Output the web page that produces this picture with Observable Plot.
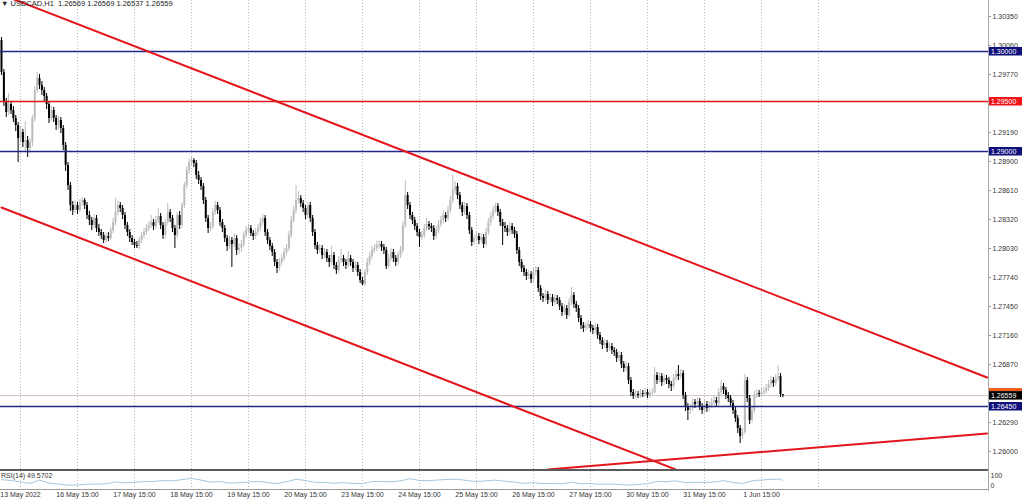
<!DOCTYPE html>
<html><head><meta charset="utf-8">
<script src="https://cdn.jsdelivr.net/npm/d3@7"></script>
<script src="https://cdn.jsdelivr.net/npm/@observablehq/plot@0.6"></script>
<style>
html,body{margin:0;padding:0;background:#fff;}
body{width:1024px;height:499px;overflow:hidden;position:relative;font-family:"Liberation Sans",Arial,sans-serif;}
#main{position:absolute;left:0;top:0;}
#rsi{position:absolute;left:0;top:469px;}
#hdr{position:absolute;left:1px;top:-1px;font-size:7.5px;line-height:10px;color:#222;white-space:pre;}
#rsilbl{position:absolute;left:1px;top:471px;font-size:7px;line-height:9px;color:#333;white-space:pre;}
#sep{position:absolute;left:0;top:469px;width:988px;height:2px;background:#5a5a5a;}
#vaxis{position:absolute;left:988px;top:0;width:1px;height:491px;background:#a8a8a8;}
svg{overflow:visible}
</style></head><body>
<div id="main"></div>
<div id="rsi"></div>
<div id="sep"></div>
<div id="vaxis"></div>
<div id="hdr"></div>
<div id="rsilbl"></div>
<script>
// ---- data: USDCAD H1, one bar per hour (bar index 0 = 13 May 07:00) ----
const symbol = "USDCAD,H1";
const firstOpen = 1.3011;
const closes = [
1.2979,1.2949,1.2939,1.2947,1.2941,1.2933,1.2926,1.2913,1.2919,1.2909,
1.2911,1.2903,1.2909,1.2933,1.2961,1.2973,1.2966,1.2961,1.2955,1.2947,
1.2933,1.2941,1.2933,1.2926,1.2931,1.2923,1.2906,1.2886,1.2866,1.2846,
1.2841,1.2846,1.2841,1.2849,1.2851,1.2846,1.2836,1.2831,1.2826,1.2833,
1.2823,1.2819,1.2816,1.2811,1.2815,1.2813,1.2821,1.2829,1.2839,1.2846,
1.2843,1.2836,1.2826,1.2819,1.2813,1.2809,1.2806,1.2805,1.2811,1.2816,
1.2819,1.2823,1.2826,1.2829,1.2825,1.2831,1.2835,1.2826,1.2816,1.2829,
1.2839,1.2833,1.2823,1.2816,1.2836,1.2826,1.2846,1.2866,1.2881,1.2889,
1.2891,1.2888,1.2876,1.2871,1.2865,1.2851,1.2833,1.2823,1.2825,1.2839,
1.2846,1.2841,1.2829,1.2823,1.2813,1.2805,1.2811,1.2807,1.2813,1.2801,
1.2803,1.2807,1.2816,1.2821,1.2823,1.2818,1.2815,1.2819,1.2823,1.2829,
1.2833,1.2819,1.2811,1.2805,1.2799,1.2789,1.2783,1.2789,1.2793,1.2799,
1.2803,1.2816,1.2831,1.2841,1.2851,1.2853,1.2848,1.2843,1.2836,1.2846,
1.2833,1.2819,1.2806,1.2801,1.2803,1.2796,1.2799,1.2793,1.2789,1.2796,
1.2786,1.2781,1.2791,1.2793,1.2789,1.2786,1.2793,1.2789,1.2783,1.2786,
1.2779,1.2771,1.2767,1.2779,1.2789,1.2795,1.2801,1.2803,1.2806,1.2807,
1.2804,1.2801,1.2785,1.2793,1.2799,1.2793,1.2789,1.2796,1.2801,1.2826,
1.2856,1.2846,1.2836,1.2831,1.2825,1.2819,1.2814,1.2816,1.2823,1.2827,
1.2825,1.2823,1.2815,1.2821,1.2827,1.2831,1.2836,1.2833,1.2841,1.2851,
1.2861,1.2865,1.2856,1.2846,1.2839,1.2845,1.2836,1.2821,1.2809,1.2813,
1.2815,1.2811,1.2814,1.2807,1.2819,1.2829,1.2835,1.2841,1.2845,1.2839,
1.2829,1.2825,1.2823,1.2819,1.2825,1.2821,1.2817,1.2801,1.2789,1.2783,
1.2779,1.2775,1.2777,1.2772,1.2779,1.2781,1.2763,1.2755,1.2753,1.2757,
1.2751,1.2754,1.2749,1.2753,1.2751,1.2745,1.2739,1.2743,1.2736,1.2749,
1.2756,1.2747,1.2743,1.2733,1.2726,1.2723,1.2725,1.2727,1.2723,1.2721,
1.2724,1.2716,1.2711,1.2706,1.2708,1.2703,1.2705,1.2701,1.2699,1.2693,
1.2696,1.2687,1.2683,1.2685,1.2671,1.2659,1.2655,1.2657,1.2656,1.2658,
1.2657,1.2659,1.2656,1.2658,1.2659,1.2676,1.2671,1.2675,1.2669,1.2673,
1.2671,1.2667,1.2665,1.2673,1.2677,1.2675,1.2678,1.2656,1.2645,1.2641,
1.2643,1.2649,1.2647,1.2650,1.2645,1.2641,1.2647,1.2643,1.2646,1.2649,
1.2651,1.2648,1.2659,1.2665,1.2661,1.2656,1.2653,1.2648,1.2641,1.2633,
1.2623,1.2615,1.2619,1.2671,1.2653,1.2631,1.2641,1.2656,1.2658,1.2657,
1.2659,1.2660,1.2663,1.2667,1.2671,1.2668,1.2673,1.2675,1.26569,1.26559];
const highs = [
1.3014,1.2982,1.2953,1.2958,1.2950,1.2945,1.2936,1.2929,1.2924,1.2922,
1.2930,1.2915,1.2913,1.2936,1.2965,1.2979,1.2977,1.2970,1.2964,1.2958,
1.2950,1.2945,1.2944,1.2936,1.2935,1.2934,1.2926,1.2909,1.2889,1.2869,
1.2850,1.2851,1.2849,1.2852,1.2854,1.2853,1.2849,1.2840,1.2834,1.2837,
1.2836,1.2827,1.2822,1.2819,1.2818,1.2819,1.2824,1.2833,1.2853,1.2850,
1.2849,1.2846,1.2839,1.2829,1.2822,1.2816,1.2812,1.2810,1.2814,1.2819,
1.2823,1.2827,1.2830,1.2836,1.2832,1.2835,1.2843,1.2838,1.2829,1.2832,
1.2848,1.2842,1.2836,1.2826,1.2839,1.2840,1.2849,1.2869,1.2885,1.2893,
1.2894,1.2893,1.2891,1.2880,1.2874,1.2868,1.2854,1.2836,1.2829,1.2843,
1.2850,1.2849,1.2844,1.2832,1.2826,1.2816,1.2815,1.2814,1.2818,1.2816,
1.2808,1.2811,1.2820,1.2825,1.2827,1.2826,1.2821,1.2823,1.2827,1.2833,
1.2837,1.2836,1.2822,1.2814,1.2808,1.2802,1.2792,1.2793,1.2797,1.2803,
1.2807,1.2820,1.2835,1.2845,1.2866,1.2860,1.2856,1.2851,1.2846,1.2849,
1.2849,1.2836,1.2822,1.2809,1.2807,1.2806,1.2803,1.2802,1.2796,1.2805,
1.2799,1.2789,1.2795,1.2802,1.2796,1.2792,1.2800,1.2796,1.2792,1.2790,
1.2789,1.2782,1.2774,1.2782,1.2793,1.2799,1.2805,1.2807,1.2810,1.2811,
1.2810,1.2807,1.2804,1.2797,1.2803,1.2802,1.2796,1.2799,1.2805,1.2830,
1.2871,1.2859,1.2849,1.2839,1.2834,1.2828,1.2822,1.2820,1.2827,1.2833,
1.2830,1.2828,1.2826,1.2825,1.2831,1.2835,1.2841,1.2839,1.2845,1.2855,
1.2876,1.2870,1.2868,1.2859,1.2849,1.2849,1.2848,1.2839,1.2824,1.2817,
1.2819,1.2818,1.2818,1.2817,1.2823,1.2833,1.2839,1.2845,1.2848,1.2848,
1.2842,1.2832,1.2829,1.2826,1.2829,1.2828,1.2824,1.2820,1.2804,1.2792,
1.2786,1.2782,1.2781,1.2780,1.2783,1.2785,1.2784,1.2766,1.2758,1.2761,
1.2760,1.2758,1.2757,1.2757,1.2756,1.2754,1.2748,1.2747,1.2746,1.2753,
1.2764,1.2759,1.2750,1.2746,1.2736,1.2729,1.2729,1.2731,1.2730,1.2726,
1.2728,1.2727,1.2719,1.2714,1.2712,1.2711,1.2709,1.2708,1.2704,1.2702,
1.2700,1.2699,1.2690,1.2689,1.2688,1.2674,1.2662,1.2661,1.2660,1.2662,
1.2661,1.2663,1.2662,1.2661,1.2663,1.2684,1.2679,1.2679,1.2678,1.2677,
1.2676,1.2674,1.2670,1.2677,1.2681,1.2686,1.2682,1.2681,1.2659,1.2648,
1.2647,1.2653,1.2652,1.2654,1.2653,1.2648,1.2651,1.2650,1.2650,1.2653,
1.2655,1.2654,1.2663,1.2671,1.2668,1.2664,1.2659,1.2656,1.2651,1.2644,
1.2636,1.2626,1.2623,1.2677,1.2674,1.2656,1.2645,1.2660,1.2662,1.2661,
1.2663,1.2664,1.2667,1.2671,1.2675,1.2674,1.2677,1.2686,1.2678,1.26569];
const lows = [
1.2976,1.2945,1.2934,1.2936,1.2937,1.2929,1.2920,1.2889,1.2908,1.2904,
1.2900,1.2894,1.2898,1.2905,1.2930,1.2958,1.2962,1.2956,1.2950,1.2942,
1.2928,1.2930,1.2929,1.2921,1.2922,1.2918,1.2901,1.2880,1.2861,1.2840,
1.2836,1.2838,1.2837,1.2839,1.2845,1.2842,1.2832,1.2826,1.2821,1.2823,
1.2819,1.2815,1.2812,1.2808,1.2809,1.2810,1.2811,1.2818,1.2826,1.2836,
1.2839,1.2832,1.2822,1.2815,1.2809,1.2806,1.2803,1.2803,1.2802,1.2808,
1.2813,1.2816,1.2820,1.2823,1.2821,1.2822,1.2828,1.2822,1.2812,1.2813,
1.2826,1.2829,1.2819,1.2803,1.2813,1.2822,1.2823,1.2843,1.2863,1.2877,
1.2885,1.2884,1.2872,1.2867,1.2861,1.2847,1.2829,1.2818,1.2820,1.2822,
1.2836,1.2837,1.2825,1.2819,1.2809,1.2800,1.2802,1.2784,1.2804,1.2796,
1.2797,1.2799,1.2804,1.2813,1.2818,1.2815,1.2811,1.2812,1.2816,1.2820,
1.2826,1.2815,1.2807,1.2801,1.2795,1.2785,1.2778,1.2780,1.2786,1.2790,
1.2796,1.2800,1.2813,1.2828,1.2838,1.2847,1.2844,1.2839,1.2832,1.2833,
1.2829,1.2815,1.2802,1.2797,1.2798,1.2792,1.2793,1.2789,1.2784,1.2786,
1.2782,1.2777,1.2778,1.2788,1.2785,1.2782,1.2783,1.2785,1.2779,1.2780,
1.2775,1.2768,1.2766,1.2765,1.2776,1.2786,1.2792,1.2798,1.2800,1.2802,
1.2800,1.2797,1.2782,1.2783,1.2790,1.2789,1.2785,1.2786,1.2793,1.2798,
1.2823,1.2842,1.2832,1.2827,1.2821,1.2815,1.2804,1.2811,1.2813,1.2820,
1.2821,1.2819,1.2811,1.2812,1.2818,1.2824,1.2828,1.2829,1.2830,1.2838,
1.2848,1.2857,1.2852,1.2842,1.2835,1.2836,1.2832,1.2817,1.2805,1.2806,
1.2810,1.2807,1.2808,1.2803,1.2805,1.2816,1.2826,1.2832,1.2838,1.2835,
1.2825,1.2806,1.2819,1.2815,1.2816,1.2817,1.2813,1.2797,1.2785,1.2779,
1.2775,1.2771,1.2772,1.2768,1.2769,1.2776,1.2759,1.2751,1.2749,1.2750,
1.2747,1.2748,1.2745,1.2746,1.2747,1.2741,1.2735,1.2736,1.2732,1.2734,
1.2746,1.2743,1.2739,1.2729,1.2722,1.2719,1.2720,1.2722,1.2719,1.2717,
1.2718,1.2712,1.2707,1.2702,1.2703,1.2699,1.2700,1.2697,1.2695,1.2689,
1.2690,1.2683,1.2679,1.2680,1.2667,1.2655,1.2652,1.2653,1.2653,1.2653,
1.2654,1.2654,1.2653,1.2653,1.2655,1.2657,1.2667,1.2668,1.2665,1.2666,
1.2667,1.2663,1.2660,1.2662,1.2670,1.2671,1.2672,1.2652,1.2640,1.2631,
1.2637,1.2640,1.2643,1.2644,1.2641,1.2637,1.2638,1.2639,1.2640,1.2643,
1.2646,1.2644,1.2645,1.2656,1.2657,1.2652,1.2649,1.2644,1.2637,1.2629,
1.2618,1.2608,1.2612,1.2617,1.2649,1.2627,1.2628,1.2638,1.2653,1.2654,
1.2654,1.2656,1.2657,1.2660,1.2664,1.2664,1.2665,1.2670,1.2654,1.26537];

// RSI(14) readings, one every 4 bars plus the last bar
const rsiValues = [55,50,42,34,52,36,30,24,25,29,30,32,42,37,40,44,45,49,48,55,
62,52,41,44,35,38,41,45,39,33,43,57,50,40,39,35,38,34,33,44,
45,43,48,60,50,49,53,56,57,50,44,48,52,46,41,34,38,33,34,32,
40,32,33,29,30,28,24,28,32,45,44,48,38,40,39,42,49,39,33,48,
53,56,58,49.5702];
const rsiLast = 49.5702;

// time axis (bar index of each labelled hour)
const dayLabels = ["13 May 2022","16 May 15:00","17 May 15:00","18 May 15:00","19 May 15:00","20 May 15:00",
  "23 May 15:00","24 May 15:00","25 May 15:00","26 May 15:00","27 May 15:00","30 May 15:00","31 May 15:00","1 Jun 15:00"];
const dayBars = [8,32,56,80,104,128,152,176,200,224,248,272,296,320];
const gridBars = [8,32,56,80,104,128,152,176,200,224,248,272,296,320,344];

// price axis
const priceTicks = [1.30350,1.30060,1.29770,1.29190,1.28900,1.28610,1.28320,1.28030,1.27740,1.27450,1.27160,1.26870,1.26290,1.26000];

// horizontal levels
const levelPrices = [1.30000, 1.29500, 1.29000, 1.26450];
const levelKinds = ["support", "pivot", "support", "support"];
const lastPrice = 1.26559;

// trend lines: [bar index, price]
const channelUpper = [[0, 1.3057], [415, 1.2674]];
const channelLower = [[0, 1.2844], [415, 1.2461]];
const risingSupport = [[230, 1.2582], [415, 1.2618]];

// ---- build ----
const bars = closes.map((c, i) => ({i, open: i === 0 ? firstOpen : closes[i - 1], high: highs[i], low: lows[i], close: c}));
const rsiBars = [...d3.range(0, 329, 4), 329];
const rsiData = rsiValues.map((v, k) => ({i: rsiBars[k], v}));

const BLUE = "#24248a", RED = "#e3161c", BULL = "#bcbcbc", BEAR = "#000000";
const kindColor = {support: BLUE, pivot: RED};
const xDomain = [-1 / 2.375, 987 / 2.375];
const font = "'Liberation Sans', Arial, sans-serif";
const candleColor = d => d.close >= d.open ? BULL : BEAR;

const main = Plot.plot({
  width: 1024, height: 469,
  marginTop: 0, marginBottom: 0, marginLeft: 0, marginRight: 36,
  style: {fontFamily: font, fontSize: "7px", background: "transparent", color: "#222"},
  x: {type: "linear", domain: xDomain, axis: null, label: null},
  y: {type: "linear", domain: [1.2582, 1.3051], label: null},
  marks: [
    Plot.ruleX(gridBars, {stroke: "#b8b8b8", strokeDasharray: "1,2", strokeWidth: 1}),
    Plot.ruleY([lastPrice], {stroke: "#d6c2c2", strokeWidth: 1}),
    Plot.ruleX(bars, {x: "i", y1: "low", y2: "high", stroke: candleColor, strokeWidth: 1}),
    Plot.ruleX(bars, {x: "i", y1: "open", y2: "close", stroke: candleColor, strokeWidth: 2}),
    Plot.ruleY(levelPrices, {stroke: (d, i) => kindColor[levelKinds[i]], strokeWidth: (d, i) => levelKinds[i] === "pivot" ? 1.6 : 1.3}),
    Plot.line(channelUpper, {x: d => d[0], y: d => d[1], stroke: RED, strokeWidth: 2, clip: true}),
    Plot.line(channelLower, {x: d => d[0], y: d => d[1], stroke: RED, strokeWidth: 2, clip: true}),
    Plot.line(risingSupport, {x: d => d[0], y: d => d[1], stroke: RED, strokeWidth: 2, clip: true}),
    Plot.axisY(priceTicks, {anchor: "right", tickSize: 2, tickPadding: 2, stroke: "#999", label: null,
      tickFormat: d => d.toFixed(5), fontSize: 7, fill: "#333"})
  ]
});
document.getElementById("main").appendChild(main);

// price tags on the right axis, positioned through Plot's own y scale
const ys = main.scale("y");
const tagG = d3.select(main).append("g").attr("font-family", font).attr("font-size", 7).attr("text-anchor", "start");
function tag(price, bg, top) {
  const y = ys.apply(price);
  if (top) tagG.append("rect").attr("x", 989).attr("y", y - 7).attr("width", 33).attr("height", 3).attr("fill", top);
  tagG.append("rect").attr("x", 989).attr("y", y - 4).attr("width", 33).attr("height", 8.5).attr("fill", bg);
  tagG.append("text").attr("x", 991).attr("y", y + 2.8).attr("text-anchor", "start").attr("fill", "#fff").text(price.toFixed(5));
}
levelPrices.forEach((p, i) => tag(p, kindColor[levelKinds[i]] === RED ? "#f0141a" : "#10107a"));
tag(lastPrice, "#000", "#f05a14");

const rsi = Plot.plot({
  width: 1024, height: 30,
  marginTop: 2, marginBottom: 10, marginLeft: 0, marginRight: 36,
  style: {fontFamily: font, fontSize: "7px", background: "transparent", color: "#222"},
  x: {type: "linear", domain: xDomain, label: null},
  y: {type: "linear", domain: [0, 100], label: null},
  marks: [
    Plot.ruleX(gridBars, {stroke: "#b8b8b8", strokeDasharray: "1,2"}),
    Plot.ruleY([0], {stroke: "#9a9a9a"}),
    Plot.line(rsiData, {x: "i", y: "v", stroke: "#a3c8de", strokeWidth: 1}),
    Plot.axisX(dayBars, {anchor: "bottom", tickSize: 0, tickPadding: 3, fontSize: 7, fill: "#333", label: null,
      tickFormat: d => dayLabels[dayBars.indexOf(d)]}),
    Plot.axisY([100], {anchor: "right", tickSize: 0, tickPadding: 2, dy: 4, fontSize: 7, fill: "#333", label: null, tickFormat: d => String(d)}),
    Plot.axisY([0], {anchor: "right", tickSize: 0, tickPadding: 2, dy: -4, fontSize: 7, fill: "#333", label: null, tickFormat: d => String(d)})
  ]
});
document.getElementById("rsi").appendChild(rsi);

const c = bars[bars.length - 1];
document.getElementById("hdr").textContent = "\u25BC " + symbol + "  " + [c.open, c.high, c.low, c.close].map(v => v.toFixed(5)).join(" ");
document.getElementById("rsilbl").textContent = "RSI(14) " + rsiLast.toFixed(4);
</script>
</body></html>
